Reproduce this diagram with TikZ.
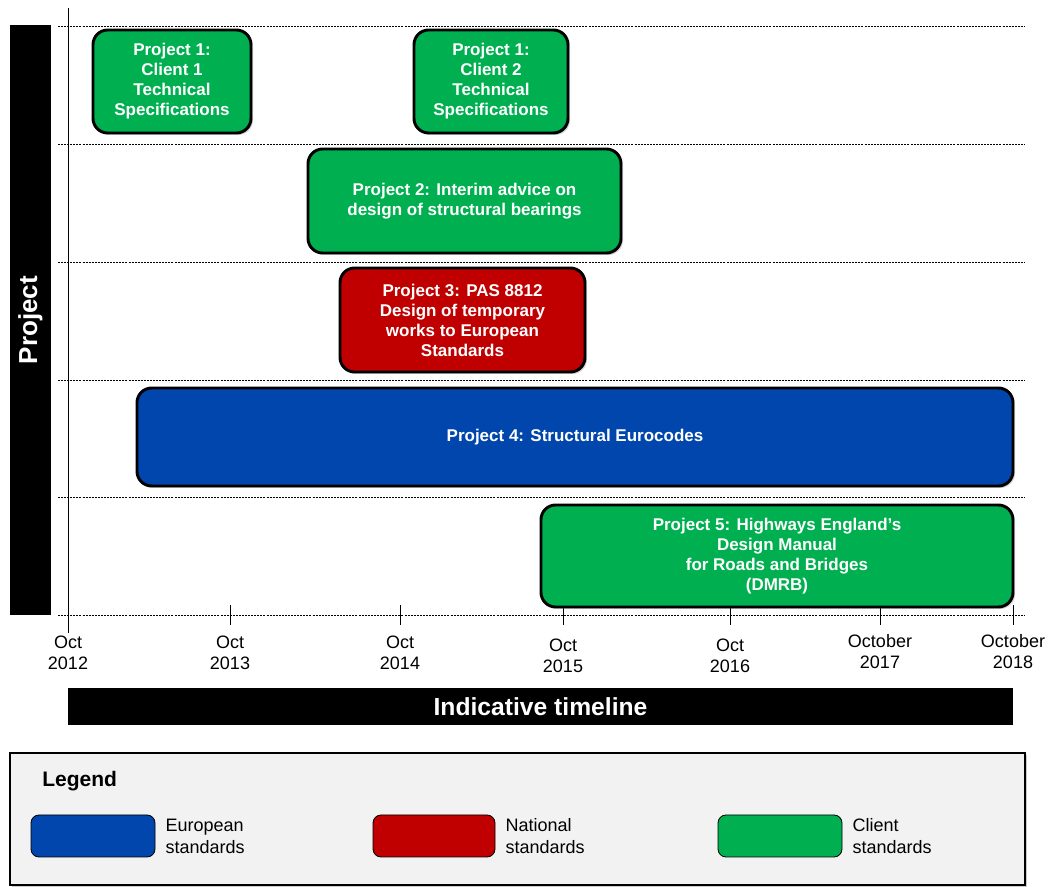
\documentclass[tikz,border=0pt]{standalone}
\usepackage{fontspec}
\setmainfont{Liberation Sans}
\usetikzlibrary{positioning,fit,shadows}
\definecolor{euro}{RGB}{0,70,173}
\definecolor{natl}{RGB}{192,0,0}
\definecolor{client}{RGB}{0,176,80}
\definecolor{leggray}{RGB}{242,242,242}
\begin{document}
\begin{tikzpicture}[x=0.75pt,y=-0.75pt,
  proj/.style={draw=black,line width=2.2pt,rounded corners=11pt,inner sep=0pt,align=center,text=white,
    font=\fontsize{12.75}{15}\selectfont\bfseries,
    drop shadow={shadow xshift=1.5pt,shadow yshift=-1.5pt,opacity=.35}},
  bar/.style={fill=black,inner sep=0pt},
  grid/.style={dashed,dash pattern=on 1.5pt off 0.8pt,line width=0.5pt},
  tick/.style={align=center,font=\fontsize{13.5}{15.75}\selectfont},
  swatch/.style={draw=black,line width=0.6pt,rounded corners=6pt,inner sep=0pt},
  legtext/.style={align=left,inner sep=0pt,font=\fontsize{13.5}{16.5}\selectfont}]
\useasboundingbox (0,0) rectangle (1051,887);
% rows and axis
\foreach \y in {26,144,262,380,497,615}{\draw[grid] (58,\y)--(1025,\y);}
\coordinate (axtop) at (68,8);
\coordinate (axbot) at (68,633);
\draw[line width=0.6pt] (axtop)--(axbot);
\node[bar,fit={(10,25)(51,615)}] (projbar) {};
\node[rotate=90,text=white,font=\fontsize{19.5}{22}\selectfont\bfseries] (projlbl) at (projbar.center) {Project};
% time axis
\foreach \x/\a/\b/\dy in {68/Oct/2012/0,230/Oct/2013/0,400/Oct/2014/0,563/Oct/2015/3,730/Oct/2016/3,880/October/2017/-1,1013/October/2018/-1}{
  \draw[line width=0.6pt] (\x,605)--(\x,625);
  \node[tick] at (\x,653+\dy) {\a\\\b};
}
\node[bar,minimum width=708.75pt,minimum height=27.75pt,text=white,font=\fontsize{18.5}{20}\selectfont\bfseries] (tlbar) at (540.5,706.5) {Indicative timeline};
% projects
\node[proj,fill=client,minimum width=118.5pt,minimum height=77.25pt] (p1a) at (172,81.5) {Project 1:\\Client 1\\Technical\\Specifications};
\node[proj,fill=client,minimum width=115.5pt,minimum height=77.25pt] (p1b) at (491,81.5) {Project 1:\\Client 2\\Technical\\Specifications};
\node[proj,fill=client,minimum width=234.75pt,minimum height=78pt] (p2) at (464.5,201) {Project 2: Interim advice on\\design of structural bearings};
\node[proj,fill=natl,minimum width=183.75pt,minimum height=78pt] (p3) at (462.5,320) {Project 3: PAS 8812\\Design of temporary\\works to European\\Standards};
\node[proj,fill=euro,minimum width=657pt,minimum height=73.5pt] (p4) at (575,437) {Project 4: Structural Eurocodes};
\node[proj,fill=client,minimum width=354pt,minimum height=76.5pt] (p5) at (777,556) {Project 5: Highways England’s\\Design Manual\\for Roads and Bridges\\(DMRB)};
% legend
\node[draw=black,line width=1.3pt,fill=leggray,inner sep=0pt,fit={(10,753)(1025,885)},
  drop shadow={shadow xshift=1.2pt,shadow yshift=-1.2pt,opacity=.4}] (legend) {};
\node[anchor=west,inner sep=0pt,font=\fontsize{15.75}{18}\selectfont\bfseries] (legtitle) at (42,781) {Legend};
\node[swatch,fill=euro,fit={(31,815)(155,857)}] (swEU) {};
\node[swatch,fill=natl,fit={(373,815)(495,857)}] (swNat) {};
\node[swatch,fill=client,fit={(718,815)(842,857)}] (swCl) {};
\node[legtext,right=7.5pt of swEU] (ltEU) {European\\standards};
\node[legtext,right=7.5pt of swNat] (ltNat) {National\\standards};
\node[legtext,right=7.5pt of swCl] (ltCl) {Client\\standards};
\end{tikzpicture}
\end{document}
